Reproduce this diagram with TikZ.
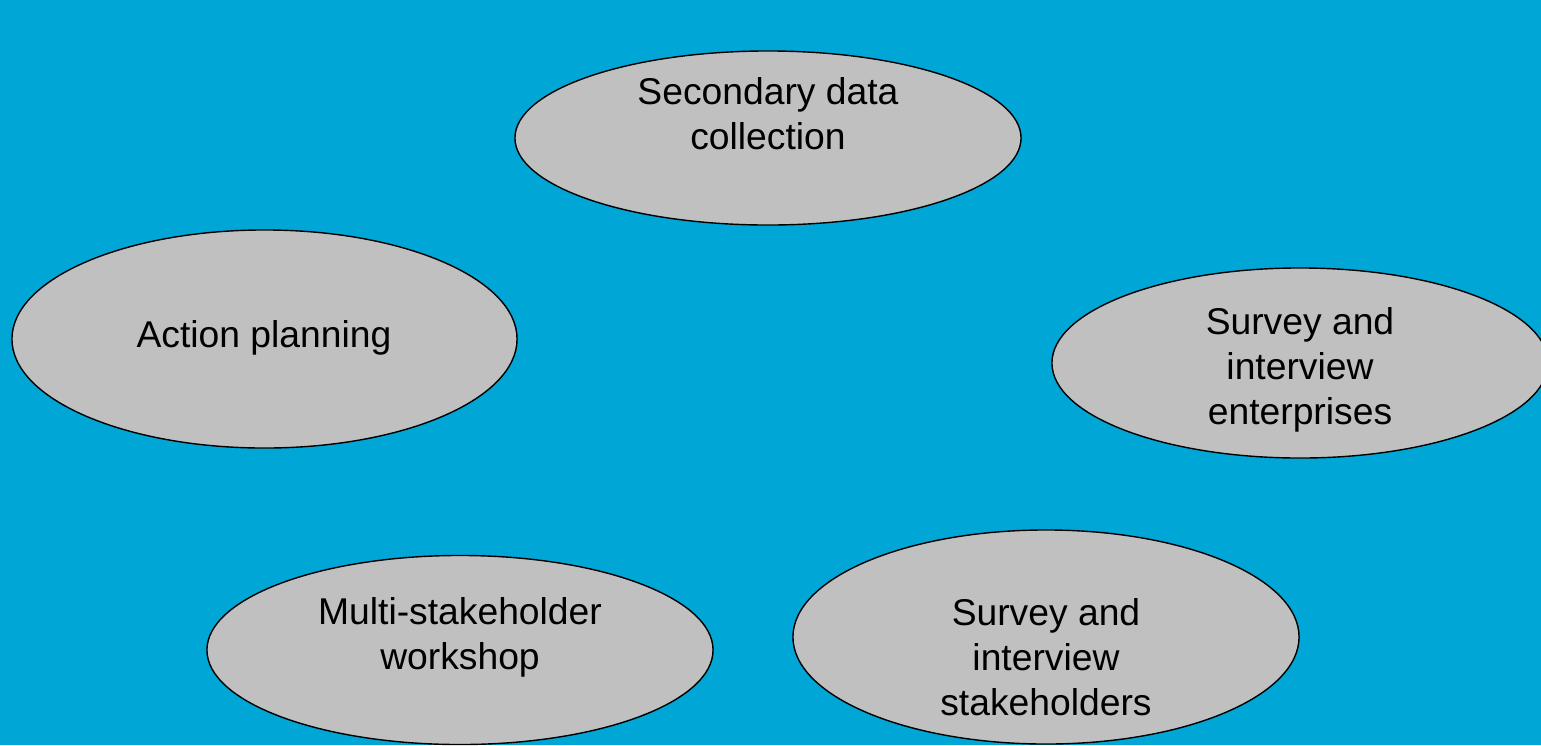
\documentclass[tikz,border=0pt]{standalone}
\usepackage{fontspec}
\setmainfont{Liberation Sans}
\usetikzlibrary{shapes.geometric}

\definecolor{seablue}{RGB}{0,166,214}
\definecolor{blobgray}{RGB}{192,192,192}

\tikzset{
  blob/.style={ellipse,draw=black,line width=1pt,fill=blobgray,inner sep=0pt},
  txt/.style={align=center,font=\fontsize{26.5}{32}\selectfont}
}

\begin{document}
\begin{tikzpicture}[x=0.025cm,y=-0.025cm]
\clip (0,0) rectangle (1541,745);
\fill[seablue] (0,0) rectangle (1541,745);

% the five activities
\node[blob,minimum width=12.65cm,minimum height=4.35cm] (sec) at (768,138) {};
\node[blob,minimum width=12.625cm,minimum height=5.45cm] (act) at (264.5,339) {};
\node[blob,minimum width=12.4cm,minimum height=4.75cm] (ent) at (1300,363) {};
\node[blob,minimum width=12.65cm,minimum height=4.725cm] (wks) at (460,650) {};
\node[blob,minimum width=12.65cm,minimum height=5.35cm] (stk) at (1046,637) {};

\node[txt] (sectxt) at (768,114) {Secondary data\\collection};
\node[txt] (acttxt) at (264,338) {Action planning};
\node[txt] (enttxt) at (1300,370) {Survey and\\interview\\enterprises};
\node[txt] (wkstxt) at (460,637) {Multi-stakeholder\\workshop};
\node[txt] (stktxt) at (1046,657) {Survey and\\interview\\stakeholders};
\end{tikzpicture}
\end{document}
